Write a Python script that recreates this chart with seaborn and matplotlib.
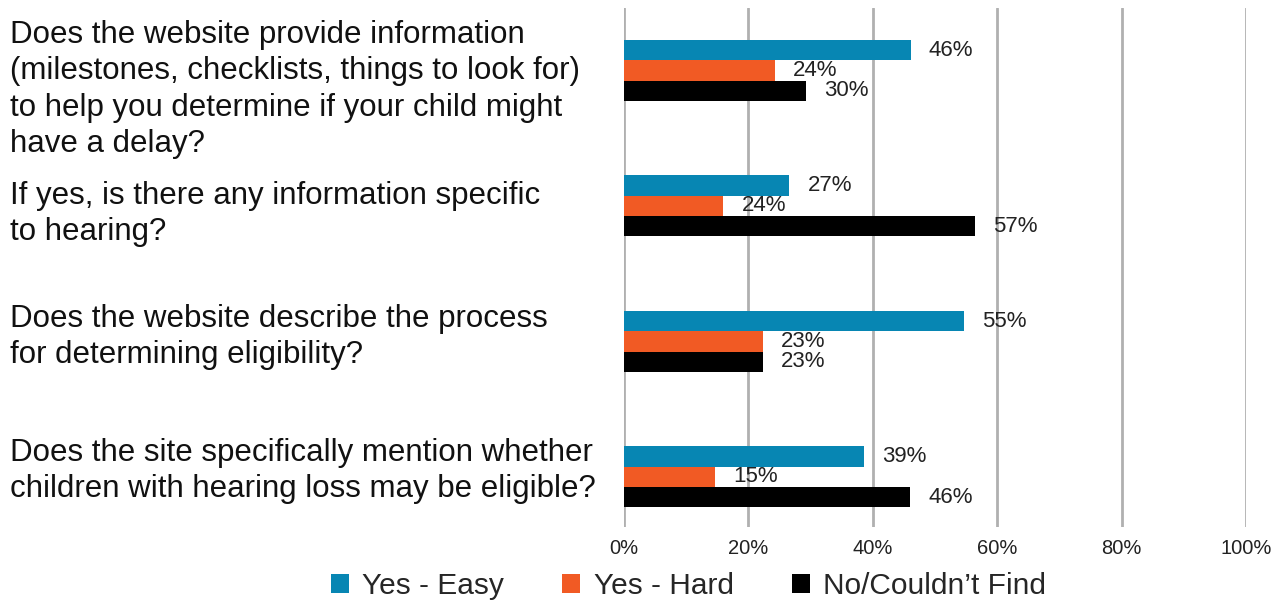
import seaborn as sns
import pandas as pd
import matplotlib.pyplot as plt
import matplotlib.transforms as mtransforms

questions = [
    "Does the website provide information\n(milestones, checklists, things to look for)\nto help you determine if your child might\nhave a delay?",
    "If yes, is there any information specific\nto hearing?",
    "Does the website describe the process\nfor determining eligibility?",
    "Does the site specifically mention whether\nchildren with hearing loss may be eligible?",
]
series = ["Yes - Easy", "Yes - Hard", "No/Couldn\u2019t Find"]

# bar lengths as drawn in the picture (%)
yes_easy = [46.1, 26.6, 54.6, 38.6]
yes_hard = [24.2, 16.0, 22.4, 14.6]
no_find = [29.3, 56.5, 22.4, 46.0]

# printed labels (the original shows 24% on the short orange bar of Q2)
yes_easy_lbl = ["46%", "27%", "55%", "39%"]
yes_hard_lbl = ["24%", "24%", "23%", "15%"]
no_find_lbl = ["30%", "57%", "23%", "46%"]

colors = ["#0786B3", "#F15A24", "#000000"]

rows = []
for s, vals in zip(series, [yes_easy, yes_hard, no_find]):
    for q, v in zip(questions, vals):
        rows.append({"question": q, "series": s, "value": v})
df = pd.DataFrame(rows)

sns.set_style("white")
plt.rcParams['font.family'] = ['Liberation Sans', 'DejaVu Sans']

fig = plt.figure(figsize=(12.82, 6.02), dpi=100)
ax = fig.add_axes([0.4867, 0.1246, 0.4853, 0.8621])

sns.barplot(data=df, y="question", x="value", hue="series", order=questions,
            hue_order=series, palette=colors, width=0.45, orient="h",
            saturation=1, linewidth=0, ax=ax, legend=True)

for cont, lbls in zip(ax.containers, [yes_easy_lbl, yes_hard_lbl, no_find_lbl]):
    ax.bar_label(cont, labels=lbls, padding=13, fontsize=16, color="#222222")

ax.set_xlim(0, 100)
ax.set_ylim(3.37, -0.46)
ax.set_xticks([0, 20, 40, 60, 80, 100])
ax.set_xticklabels([f"{t}%" for t in [0, 20, 40, 60, 80, 100]], fontsize=14.5, color="#222222")
ax.grid(axis="x", color="#B0B0B0", linewidth=2)
ax.set_axisbelow(True)
for sp in ax.spines.values():
    sp.set_visible(False)
ax.tick_params(axis="x", length=0, pad=9)
ax.tick_params(axis="y", length=0, pad=442)

# small vertical nudges of the question text (points, + is down)
nudges = [9, 1, -8, -9]
for lab, dy in zip(ax.get_yticklabels(), nudges):
    lab.set_horizontalalignment("left")
    lab.set_fontsize(22.5)
    lab.set_color("#111111")
    lab.set_linespacing(1.28)
    lab.set_transform(lab.get_transform() +
                      mtransforms.ScaledTranslation(0, -dy / 72, fig.dpi_scale_trans))
ax.set_xlabel("")
ax.set_ylabel("")

handles, labels = ax.get_legend_handles_labels()
ax.get_legend().remove()
fig.legend(handles, labels, loc="center", bbox_to_anchor=(0.537, 0.027), ncol=3,
           frameon=False, fontsize=21.5, handlelength=0.6, handleheight=0.6,
           handletextpad=0.45, columnspacing=1.95)

plt.savefig("out.png", dpi=100)
